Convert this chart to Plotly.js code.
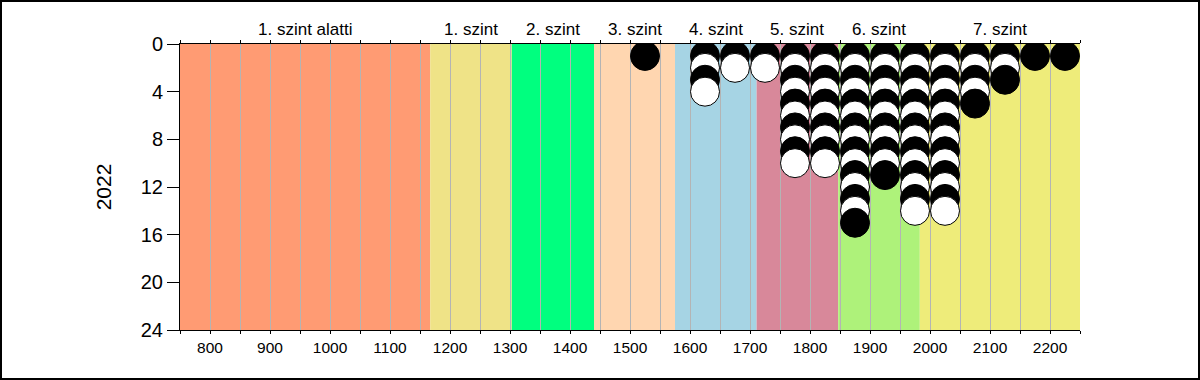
<!DOCTYPE html>
<html>
<head>
<meta charset="utf-8">
<script src="https://cdn.plot.ly/plotly-3.0.1.min.js"></script>
<style>
  html, body { margin: 0; padding: 0; background: #fff; }
  #frame { width: 1200px; height: 380px; box-sizing: border-box; border: 2px solid #000; overflow: hidden; }
</style>
</head>
<body>
<div id="frame"><div id="chart"></div></div>
<script>
// Level bands (score ranges)
const bandNames = ["1. szint alatti", "1. szint", "2. szint", "3. szint", "4. szint", "5. szint", "6. szint", "7. szint"];
const bandStart = [750, 1167, 1303, 1440, 1575, 1711, 1847, 1983];
const bandEnd   = [1167, 1303, 1440, 1575, 1711, 1847, 1983, 2250];
const bandColors = ["#FF9B73", "#EFE387", "#00FF7F", "#FFD6B0", "#A6D4E4", "#D8889A", "#AEF27A", "#EEEC7A"];

// Dot columns: score bin centre and number of students
const binCenters = [1525, 1625, 1675, 1725, 1775, 1825, 1875, 1925, 1975, 2025, 2075, 2125, 2175, 2225];
const binCounts  = [1, 4, 2, 2, 10, 10, 15, 11, 14, 14, 5, 3, 1, 1];

// Axis ticks
const xTickVals = [750, 800, 850, 900, 950, 1000, 1050, 1100, 1150, 1200, 1250, 1300, 1350, 1400, 1450, 1500, 1550, 1600, 1650, 1700, 1750, 1800, 1850, 1900, 1950, 2000, 2050, 2100, 2150, 2200, 2250];
const xTickText = ["", "800", "", "900", "", "1000", "", "1100", "", "1200", "", "1300", "", "1400", "", "1500", "", "1600", "", "1700", "", "1800", "", "1900", "", "2000", "", "2100", "", "2200", ""];
const yTickVals = [0, 4, 8, 12, 16, 20, 24];
const yTitle = "2022";

// Expand counts into stacked dots
const dx = [], dy = [], dc = [];
binCenters.forEach((c, i) => {
  for (let k = 1; k <= binCounts[i]; k++) {
    dx.push(c); dy.push(k); dc.push(k % 2 === 1 ? "#000000" : "#FFFFFF");
  }
});

const shapes = bandNames.map((n, i) => ({
  type: "rect", xref: "x", yref: "paper",
  x0: bandStart[i], x1: bandEnd[i], y0: 0, y1: 1,
  fillcolor: bandColors[i], line: { width: 0 }, layer: "below"
}));

const annotations = bandNames.map((n, i) => ({
  text: n, xref: "x", yref: "paper",
  x: (bandStart[i] + bandEnd[i]) / 2, y: 1,
  xanchor: "center", yanchor: "bottom", yshift: 3,
  showarrow: false, font: { size: 17, color: "#000" }
}));

const trace = {
  type: "scatter", mode: "markers", x: dx, y: dy,
  marker: { size: 29, color: dc, line: { color: "#000", width: 1 } },
  hoverinfo: "skip", cliponaxis: true
};

const layout = {
  width: 1196, height: 376,
  margin: { l: 178, r: 118, t: 42, b: 48 },
  paper_bgcolor: "#fff", plot_bgcolor: "#fff",
  font: { family: "Liberation Sans, Arial, sans-serif", color: "#000" },
  showlegend: false,
  xaxis: {
    range: [750, 2250], tickmode: "array", tickvals: xTickVals, ticktext: xTickText,
    ticks: "outside", ticklen: 3, tickcolor: "#000", tickwidth: 1,
    showline: true, linecolor: "#000", linewidth: 1, mirror: "ticks",
    showgrid: true, gridcolor: "#B4B4B4", gridwidth: 1, zeroline: false,
    tickfont: { size: 15.5 }, fixedrange: true
  },
  yaxis: {
    range: [24, 0], tickmode: "array", tickvals: yTickVals,
    ticks: "outside", ticklen: 12, tickcolor: "#000", tickwidth: 1,
    showline: true, linecolor: "#000", linewidth: 1, mirror: false,
    showgrid: false, zeroline: false,
    tickfont: { size: 20 },
    title: { text: yTitle, font: { size: 21 }, standoff: 23 },
    fixedrange: true
  },
  shapes: shapes,
  annotations: annotations
};

Plotly.newPlot("chart", [trace], layout, { displayModeBar: false, staticPlot: true });
</script>
</body>
</html>
